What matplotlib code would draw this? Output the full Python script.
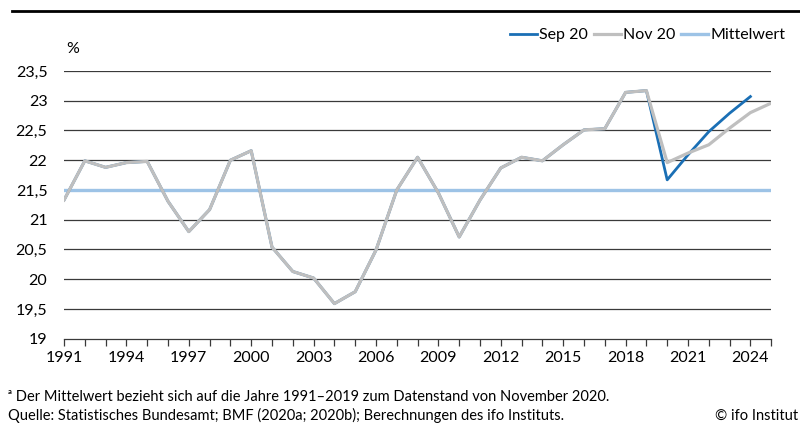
import numpy as np
import matplotlib.pyplot as plt
from matplotlib.lines import Line2D
from matplotlib.ticker import FuncFormatter

plt.rcParams['font.family'] = ['Lato', 'DejaVu Sans']

years = list(range(1991, 2020))
history = [21.33, 21.99, 21.88, 21.96, 21.98, 21.31, 20.80, 21.17, 22.00, 22.16,
           20.54, 20.13, 20.02, 19.59, 19.79, 20.49, 21.50, 22.05, 21.45, 20.71,
           21.33, 21.87, 22.05, 21.99, 22.26, 22.51, 22.53, 23.14, 23.17]

sep_years = years + [2020, 2021, 2022, 2023, 2024]
sep_values = history + [21.67, 22.09, 22.48, 22.79, 23.07]

nov_years = years + [2020, 2021, 2022, 2023, 2024, 2025]
nov_values = history + [21.96, 22.12, 22.26, 22.54, 22.80, 22.96]

mittelwert = 21.5
xtick_years = list(range(1991, 2025, 3))

blue = '#1a6fb5'
gray = '#bfbfbf'
light_blue = '#9dc3e6'

fig = plt.figure(figsize=(8, 4.25), dpi=100)
ax = fig.add_axes([0.08, 0.203, 0.884, 0.63])

for y in np.arange(19.5, 23.51, 0.5):
    ax.axhline(y, color='#3a3a3a', lw=0.9, zorder=1)

ax.axhline(mittelwert, color=light_blue, lw=2.4, zorder=2)
ax.plot(sep_years, sep_values, color=blue, lw=2.0, zorder=3)
ax.plot(nov_years, nov_values, color=gray, lw=2.3, zorder=4)

ax.set_xlim(1991, 2025)
ax.set_ylim(19, 23.5)
ax.set_yticks(np.arange(19, 23.51, 0.5))
ax.yaxis.set_major_formatter(FuncFormatter(lambda v, p: f'{v:g}'.replace('.', ',')))
ax.set_xticks(range(1991, 2026), minor=False)
ax.set_xticklabels([str(y) if y in xtick_years else '' for y in range(1991, 2026)])
ax.tick_params(axis='x', length=5, width=0.9, color='#3a3a3a', labelsize=11.5, pad=4)
ax.tick_params(axis='y', length=0, labelsize=11.5, pad=12)

for s in ['top', 'right', 'left']:
    ax.spines[s].set_visible(False)
ax.spines['bottom'].set_color('#3a3a3a')
ax.spines['bottom'].set_linewidth(0.9)

ax.text(0.003, 1.056, '%', transform=ax.transAxes, fontsize=11.5, ha='left', va='bottom')

handles = [Line2D([], [], color=blue, lw=2.0),
           Line2D([], [], color=gray, lw=2.3),
           Line2D([], [], color=light_blue, lw=2.4)]
fig.legend(handles, ['Sep 20', 'Nov 20', 'Mittelwert'], loc='upper right',
           bbox_to_anchor=(1.0, 0.968), ncol=3, frameon=False, fontsize=11.5,
           handlelength=1.7, handletextpad=0.15, columnspacing=0.35)

fig.add_artist(Line2D([0.015, 1.0], [0.975, 0.975], color='black', lw=2.0,
                      transform=fig.transFigure))

fig.text(0.01, 0.067, '\u1d43 Der Mittelwert bezieht sich auf die Jahre 1991\u20132019 zum Datenstand von November 2020.',
         fontsize=10.5, ha='left', va='center')
fig.text(0.01, 0.022, 'Quelle: Statistisches Bundesamt; BMF (2020a; 2020b); Berechnungen des ifo Instituts.',
         fontsize=10.5, ha='left', va='center')
fig.text(0.998, 0.022, '\u00a9 ifo Institut', fontsize=10.5, ha='right', va='center')

fig.savefig('out.png', dpi=100)
